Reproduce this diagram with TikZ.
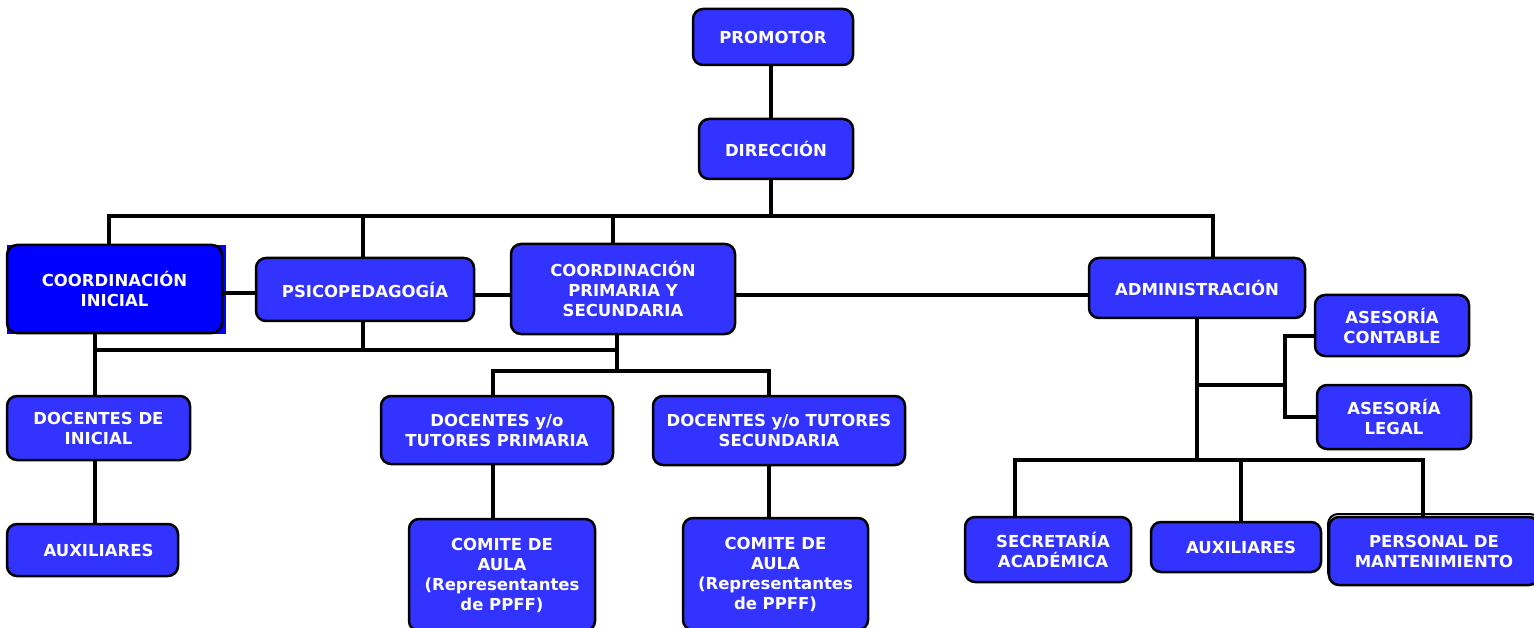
\documentclass[tikz,border=0pt]{standalone}
\usepackage{fontspec}
\setmainfont{DejaVu Sans}
\usepackage{tikz}
\usetikzlibrary{calc}

\definecolor{boxblue}{HTML}{3333FF}
\definecolor{deepblue}{HTML}{0000FF}

\tikzset{
  orgbox/.style={draw=black, line width=2.5pt, rounded corners=10pt, fill=boxblue,
    text=white, align=center, inner sep=0pt,
    font=\bfseries\fontsize{16.5}{20}\selectfont},
  link/.style={line width=4pt, line cap=rect}
}

\begin{document}
\begin{tikzpicture}[x=1pt, y=-1pt]
    \useasboundingbox[fill=white] (0,0) rectangle (1534,628);

    % top
    \node[orgbox, minimum width=160pt, minimum height=56pt] (prom) at (773, 37) {PROMOTOR};
    \node[orgbox, minimum width=154pt, minimum height=60pt] (dir) at (776, 149) {DIRECCIÓN};

    % second level
    \fill[deepblue] (7,245) rectangle (226,334);
    \node[orgbox, fill=deepblue, minimum width=215pt, minimum height=88pt] (coord_ini)
      at (114.5, 289) {COORDINACIÓN\\INICIAL};
    \node[orgbox, minimum width=218pt, minimum height=63pt] (psico)
      at (365, 289.5) {PSICOPEDAGOGÍA};
    \node[orgbox, minimum width=224pt, minimum height=90pt] (coord_prim)
      at (623, 289) {COORDINACIÓN\\PRIMARIA Y\\SECUNDARIA};
    \node[orgbox, minimum width=216pt, minimum height=60pt] (admin)
      at (1197, 288) {ADMINISTRACIÓN};

    % inicial
    \node[orgbox, minimum width=183pt, minimum height=64pt] (doc_ini)
      at (98.5, 428) {DOCENTES DE\\INICIAL};
    \node[orgbox, minimum width=171pt, minimum height=52pt] (aux_ini)
      at (92.5, 550) {\hspace{12pt}AUXILIARES};

    % primaria y secundaria
    \node[orgbox, minimum width=232pt, minimum height=68pt] (doc_prim)
      at (497, 430) {DOCENTES y/o\\TUTORES PRIMARIA};
    \node[orgbox, minimum width=252pt, minimum height=69pt] (doc_sec)
      at (779, 430.5) {DOCENTES y/o TUTORES\\SECUNDARIA};
    \node[orgbox, minimum width=186pt, minimum height=112pt] (comite_prim)
      at (502, 575) {COMITE DE\\AULA\\(Representantes\\de PPFF)};
    \node[orgbox, minimum width=185pt, minimum height=112pt] (comite_sec)
      at (775.5, 574) {COMITE DE\\AULA\\(Representantes\\de PPFF)};

    % administracion
    \node[orgbox, minimum width=154pt, minimum height=61pt] (ases_cont)
      at (1392, 325.5) {ASESORÍA\\CONTABLE};
    \node[orgbox, minimum width=154pt, minimum height=64pt] (ases_legal)
      at (1394, 417) {ASESORÍA\\LEGAL};
    \node[orgbox, minimum width=166pt, minimum height=65pt] (secre)
      at (1048, 549.5) {\hspace{10pt}SECRETARÍA\\\hspace{10pt}ACADÉMICA};
    \node[orgbox, minimum width=170pt, minimum height=50pt] (aux_adm)
      at (1236, 547) {\hspace{10pt}AUXILIARES};
    \draw[line width=2pt, rounded corners=10pt] (1328,514) rectangle (1540,582);
    \node[orgbox, minimum width=210pt, minimum height=68pt] (personal)
      at (1434, 551) {PERSONAL DE\\MANTENIMIENTO};

    % buses
    \coordinate (bus_top_l) at (108.5, 216);
    \coordinate (bus_top_r) at (1213, 216);
    \coordinate (bus_mid_l) at (95, 350);
    \coordinate (bus_mid_r) at (617, 350);
    \coordinate (bus_doc_l) at (493, 371);
    \coordinate (bus_doc_r) at (769, 371);
    \coordinate (adm_trunk) at (1197, 385);
    \coordinate (ases_bar) at (1285, 385);
    \coordinate (bus_adm_l) at (1015, 460);
    \coordinate (bus_adm_r) at (1423, 460);

    \draw[link] (prom.south -| 771,0) -- (dir.north -| 771,0);
    \draw[link] (dir.south -| 771,0) -- (bus_top_l -| 771,0);
    \draw[link] (coord_ini.north -| bus_top_l) -- (bus_top_l) -- (bus_top_r)
      -- (bus_top_r |- admin.north);
    \draw[link] ([xshift=-2pt]psico.north) -- ([xshift=-2pt]psico.north |- bus_top_l);
    \draw[link] ([xshift=-10pt]coord_prim.north) -- ([xshift=-10pt]coord_prim.north |- bus_top_l);

    \draw[link] ([yshift=-4pt]coord_ini.east) -- ([yshift=-4pt]coord_ini.east -| psico.west);
    \draw[link] ([yshift=-6pt]psico.east) -- ([yshift=-6pt]psico.east -| coord_prim.west);
    \draw[link] ([yshift=-6pt]coord_prim.east) -- ([yshift=-6pt]coord_prim.east -| admin.west);

    \draw[link] (coord_ini.south -| bus_mid_l) -- (doc_ini.north -| bus_mid_l);
    \draw[link] (doc_ini.south -| bus_mid_l) -- (aux_ini.north -| bus_mid_l);
    \draw[link] (bus_mid_l) -- (bus_mid_r);
    \draw[link] ([xshift=-2pt]psico.south) -- ([xshift=-2pt]psico.south |- bus_mid_l);
    \draw[link] (coord_prim.south -| bus_mid_r) -- (bus_mid_r |- bus_doc_l);
    \draw[link] (doc_prim.north -| bus_doc_l) -- (bus_doc_l) -- (bus_doc_r)
      -- (doc_sec.north -| bus_doc_r);
    \draw[link] (doc_prim.south -| bus_doc_l) -- (comite_prim.north -| bus_doc_l);
    \draw[link] (doc_sec.south -| bus_doc_r) -- (comite_sec.north -| bus_doc_r);

    \draw[link] (admin.south) -- (admin.south |- bus_adm_l);
    \draw[link] (adm_trunk) -- (ases_bar);
    \draw[link] ([yshift=-10pt]ases_cont.west) -- ([yshift=-10pt]ases_cont.west -| ases_bar)
      -- (ases_legal.west -| ases_bar) -- (ases_legal.west);
    \draw[link] (secre.north -| bus_adm_l) -- (bus_adm_l) -- (bus_adm_r)
      -- (personal.north -| bus_adm_r);
    \draw[link] ([xshift=5pt]aux_adm.north) -- ([xshift=5pt]aux_adm.north |- bus_adm_l);

\end{tikzpicture}
\end{document}
